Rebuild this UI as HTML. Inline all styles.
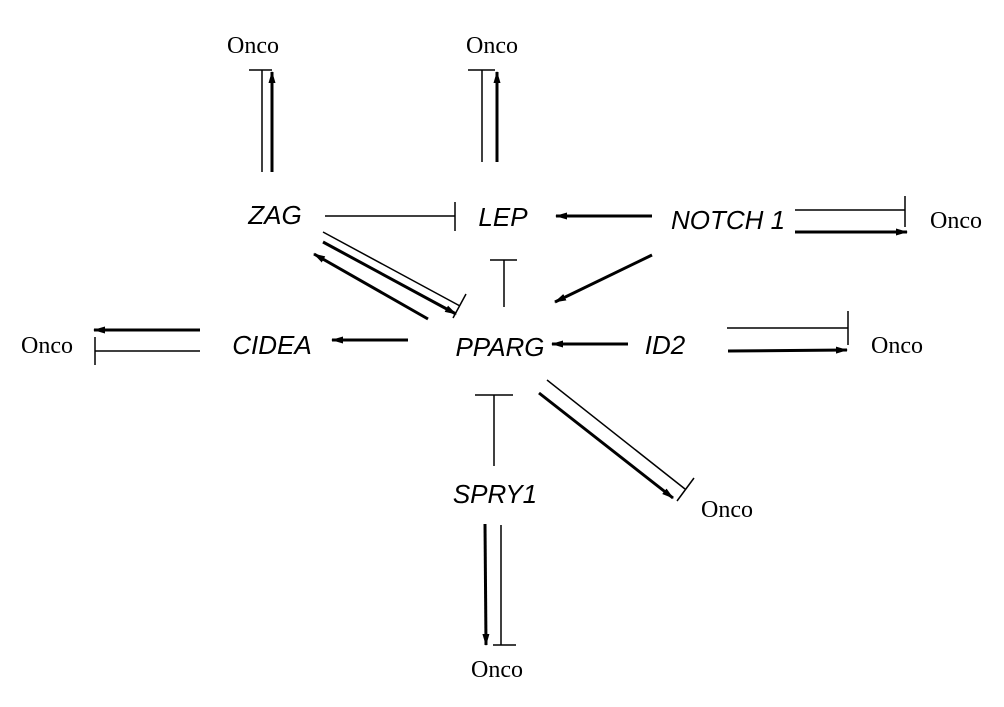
<!DOCTYPE html>
<html><head><style>body{margin:0;background:#fff}svg{display:block}
.g{font-family:"Liberation Sans",sans-serif;font-style:italic;font-size:26px}
.o{font-family:"Liberation Serif",serif;font-size:24px}</style></head><body>
<svg width="1004" height="707" viewBox="0 0 1004 707">
<defs><marker id="a" markerWidth="12" markerHeight="8" refX="11" refY="4" orient="auto" markerUnits="userSpaceOnUse"><path d="M0,0.5 L12,4 L0,7.5z" fill="#000"/></marker></defs>
<g stroke="#000" fill="none">
<g stroke-width="1.5">
<line x1="262" y1="172" x2="262" y2="70"/><line x1="249" y1="70" x2="272" y2="70"/>
<line x1="482" y1="162" x2="482" y2="70"/><line x1="468" y1="70" x2="495" y2="70"/>
<line x1="325" y1="216" x2="455" y2="216"/><line x1="455" y1="202" x2="455" y2="231"/>
<line x1="504" y1="307" x2="504" y2="260"/><line x1="490" y1="260" x2="517" y2="260"/>
<line x1="323" y1="232" x2="460" y2="306"/><line x1="453" y1="318" x2="466" y2="294"/>
<line x1="200" y1="351" x2="95" y2="351"/><line x1="95" y1="337" x2="95" y2="365"/>
<line x1="727" y1="328" x2="848" y2="328"/><line x1="848" y1="311" x2="848" y2="345"/>
<line x1="795" y1="210" x2="905" y2="210"/><line x1="905" y1="196" x2="905" y2="227"/>
<line x1="547" y1="380" x2="685" y2="489"/><line x1="677" y1="501" x2="694" y2="478"/>
<line x1="494" y1="466" x2="494" y2="395"/><line x1="475" y1="395" x2="513" y2="395"/>
<line x1="501" y1="525" x2="501" y2="645"/><line x1="493" y1="645" x2="516" y2="645"/>
</g>
<g stroke-width="3" marker-end="url(#a)">
<line x1="272" y1="172" x2="272" y2="72"/>
<line x1="497" y1="162" x2="497" y2="72"/>
<line x1="652" y1="216" x2="556" y2="216"/>
<line x1="652" y1="255" x2="555" y2="302"/>
<line x1="323" y1="242" x2="456" y2="314"/>
<line x1="428" y1="319" x2="314" y2="254"/>
<line x1="408" y1="340" x2="332" y2="340"/>
<line x1="200" y1="330" x2="94" y2="330"/>
<line x1="628" y1="344" x2="552" y2="344"/>
<line x1="728" y1="351" x2="847" y2="350"/>
<line x1="795" y1="232" x2="907" y2="232"/>
<line x1="539" y1="393" x2="673" y2="498"/>
<line x1="485" y1="524" x2="486" y2="645"/>
</g></g>
<g text-anchor="middle">
<text class="g" x="275" y="224">ZAG</text>
<text class="g" x="503" y="226">LEP</text>
<text class="g" x="728" y="229">NOTCH 1</text>
<text class="g" x="500" y="356">PPARG</text>
<text class="g" x="665" y="354">ID2</text>
<text class="g" x="272" y="354">CIDEA</text>
<text class="g" x="495" y="503">SPRY1</text>
<text class="o" x="253" y="53">Onco</text>
<text class="o" x="492" y="53">Onco</text>
<text class="o" x="956" y="228">Onco</text>
<text class="o" x="47" y="353">Onco</text>
<text class="o" x="897" y="353">Onco</text>
<text class="o" x="727" y="517">Onco</text>
<text class="o" x="497" y="677">Onco</text>
</g>
</svg></body></html>
